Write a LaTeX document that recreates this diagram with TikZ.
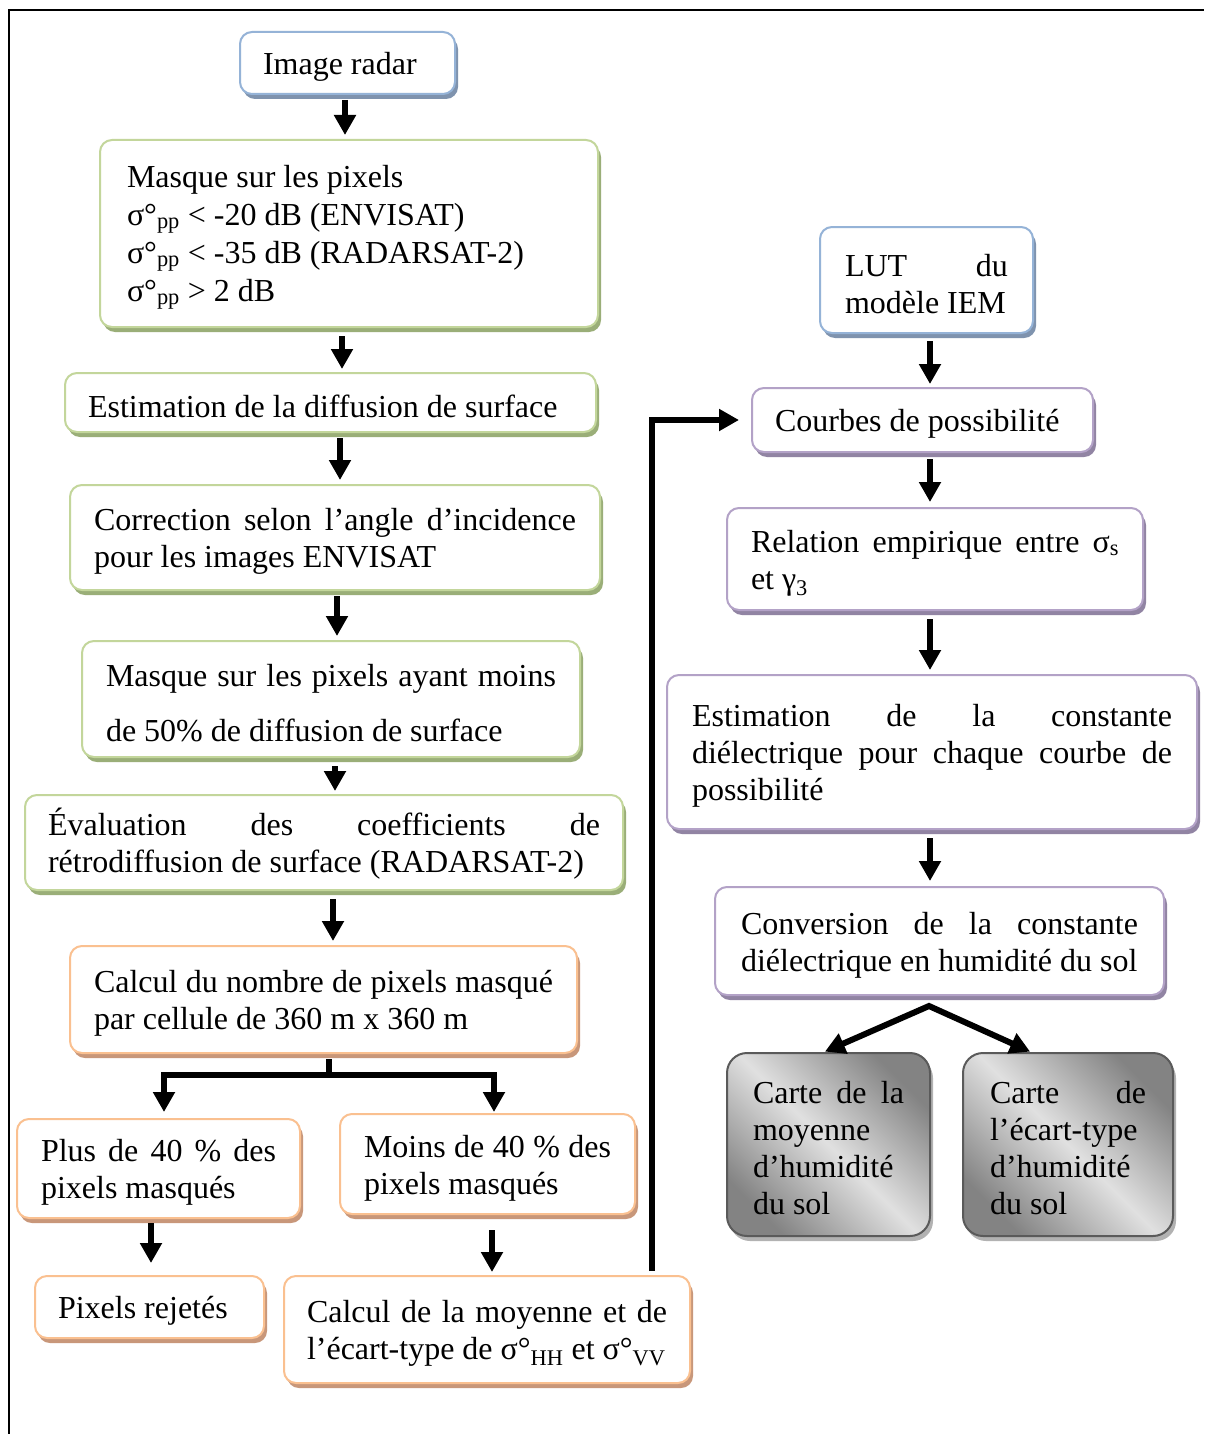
\documentclass[tikz,border=0pt]{standalone}
\usepackage{fontspec}
\setmainfont{Liberation Serif}
\usetikzlibrary{arrows.meta,shadows}
\definecolor{cblue}{HTML}{95B3D7}
\definecolor{sblue}{HTML}{7F93AE}
\definecolor{cgreen}{HTML}{C3D69B}
\definecolor{sgreen}{HTML}{9AAE78}
\definecolor{corange}{HTML}{FAC090}
\definecolor{sorange}{HTML}{C8977A}
\definecolor{cpurple}{HTML}{B3A2C7}
\definecolor{spurple}{HTML}{9184A3}
\definecolor{gdark}{HTML}{838383}
\definecolor{glight}{HTML}{E0E0E0}
\definecolor{gborder}{HTML}{5A5A5A}
\newcommand{\fsz}{\fontsize{32}{37}\selectfont}
\newcommand{\sps}{\spaceskip=0.25em plus 0.12em minus 0.06em\relax\xspaceskip=0pt\relax}
\newcommand{\jl}[1]{\noindent\hbox to \hsize{\spaceskip=0.25em plus 1fil\relax #1}}
\newcommand{\sbs}[1]{\textsubscript{#1}}
\begin{document}
\begin{tikzpicture}[x=1pt,y=-1pt,
  box/.style={draw=#1, line width=2pt, rounded corners=12pt, fill=white, inner ysep=0pt, text height=30pt, font=\fsz, text=black},
  sh/.style={drop shadow={shadow xshift=3pt,shadow yshift=-5pt,fill=#1,opacity=1}},
  arr/.style={line width=6pt,-{Triangle[width=21pt,length=20pt]},shorten <=5pt,shorten >=4pt},
  ln/.style={line width=6pt},
  gbox/.style={draw=gborder, line width=2pt, rounded corners=20pt, top color=gdark, bottom color=gdark, middle color=glight, shading angle=-45, inner ysep=0pt, text height=30pt, font=\fsz, text=black, drop shadow={shadow xshift=3pt,shadow yshift=-5pt,fill=gray!60,opacity=1}}
]
\useasboundingbox (0,0) rectangle (1204,1434);
\fill[white] (0,0) rectangle (1204,1434);
\draw[line width=2pt] (9,1434) -- (9,10) -- (1204,10);

% left column
\node[box=cblue, sh=sblue, minimum width=215pt, minimum height=62pt, text width=169pt, inner xsep=23pt] (img) at (347.5,63) {\sps\mbox{Image radar}};
\node[box=cgreen, sh=sgreen, minimum width=498pt, minimum height=187pt, text width=444pt, inner xsep=27pt] (mask) at (349,233.5)
 {\sps\mbox{Masque sur les pixels}\\[1pt]
  \mbox{σ°\sbs{pp} < -20 dB (ENVISAT)}\\[1pt]
  \mbox{σ°\sbs{pp} < -35 dB (RADARSAT-2)}\\[1pt]
  \mbox{σ°\sbs{pp} > 2 dB}};
\node[box=cgreen, sh=sgreen, minimum width=531pt, minimum height=59pt, text width=485pt, inner xsep=23pt] (est) at (330.5,402.5) {\sps\mbox{Estimation de la diffusion de surface}};
\node[box=cgreen, sh=sgreen, minimum width=530pt, minimum height=105pt, text width=482pt, inner xsep=24pt] (corr) at (335,537.5)
 {\sps\jl{Correction selon l’angle d’incidence}\\ \mbox{pour les images ENVISAT}};
\node[box=cgreen, sh=sgreen, minimum width=498pt, minimum height=116pt, text width=450pt, inner xsep=24pt] (m50) at (331,699)
 {\sps\jl{Masque sur les pixels ayant moins}\\[18pt] \mbox{de 50\% de diffusion de surface}};
\node[box=cgreen, sh=sgreen, minimum width=598pt, minimum height=95pt, text width=552pt, inner xsep=23pt] (eval) at (324,842.5)
 {\sps\jl{Évaluation des coefficients de}\\ \mbox{rétrodiffusion de surface (RADARSAT-2)}};
\node[box=corange, sh=sorange, minimum width=507pt, minimum height=107pt, text width=459pt, inner xsep=24pt] (calc) at (323.5,999.5)
 {\sps\jl{Calcul du nombre de pixels masqué}\\ \mbox{par cellule de 360 m x 360 m}};
\node[box=corange, sh=sorange, minimum width=283pt, minimum height=99pt, text width=235pt, inner xsep=24pt] (plus) at (158.5,1168.5)
 {\sps\jl{Plus de 40 \% des}\\ \mbox{pixels masqués}};
\node[box=corange, sh=sorange, minimum width=295pt, minimum height=100pt, text width=247pt, inner xsep=24pt] (moins) at (487.5,1164)
 {\sps\jl{Moins de 40 \% des}\\ \mbox{pixels masqués}};
\node[box=corange, sh=sorange, minimum width=229pt, minimum height=62pt, text width=183pt, inner xsep=23pt] (rej) at (149.5,1307) {\sps\mbox{Pixels rejetés}};
\node[box=corange, sh=sorange, minimum width=406pt, minimum height=107pt, text width=360pt, inner xsep=23pt] (moy) at (487,1329.5)
 {\sps\jl{Calcul de la moyenne et de}\\ \mbox{l’écart-type de σ°\sbs{HH} et σ°\sbs{VV}}};

% right column
\node[box=cblue, sh=sblue, minimum width=213pt, minimum height=106pt, text width=163pt, inner xsep=25pt] (lut) at (926.5,280)
 {\sps\jl{LUT du}\\ \mbox{modèle IEM}};
\node[box=cpurple, sh=spurple, minimum width=341pt, minimum height=64pt, text width=295pt, inner xsep=23pt] (courb) at (922.5,420) {\sps\mbox{Courbes de possibilité}};
\node[box=cpurple, sh=spurple, minimum width=416pt, minimum height=102pt, text width=368pt, inner xsep=24pt] (rel) at (935,559)
 {\sps\jl{Relation empirique entre σ\sbs{s}}\\ \mbox{et γ\sbs{3}}};
\node[box=cpurple, sh=spurple, minimum width=530pt, minimum height=154pt, text width=480pt, inner xsep=25pt] (estc) at (932,752)
 {\sps\jl{Estimation de la constante}\\ \jl{diélectrique pour chaque courbe de}\\ \mbox{possibilité}};
\node[box=cpurple, sh=spurple, minimum width=449pt, minimum height=108pt, text width=397pt, inner xsep=26pt] (conv) at (939.5,941)
 {\sps\jl{Conversion de la constante}\\ \mbox{diélectrique en humidité du sol}};
\node[gbox, minimum width=203pt, minimum height=183pt, text width=151pt, inner xsep=26pt] (cm) at (828.5,1144.5)
 {\sps\jl{Carte de la}\\ \mbox{moyenne}\\ \mbox{d’humidité}\\ \mbox{du sol}};
\node[gbox, minimum width=210pt, minimum height=183pt, text width=156pt, inner xsep=27pt] (ce) at (1068,1144.5)
 {\sps\jl{Carte de}\\ \mbox{l’écart-type}\\ \mbox{d’humidité}\\ \mbox{du sol}};

% arrow guide coordinates
\coordinate (a1) at (345,0);
\coordinate (a2) at (342,0);
\coordinate (a3) at (340,0);
\coordinate (a4) at (337,0);
\coordinate (a5) at (335,0);
\coordinate (a6) at (333,0);
\coordinate (a7) at (151,0);
\coordinate (a8) at (492,0);
\coordinate (ar) at (930,0);
\coordinate (split) at (329,1075);
\coordinate (sl) at (164,1075);
\coordinate (sr) at (494,1075);
\coordinate (lx) at (652,0);
\coordinate (ap) at (929,1006);
\coordinate (tl) at (824,0);
\coordinate (tr) at (1031,0);

\draw[arr] (img.south -| a1) -- (mask.north -| a1);
\draw[arr, shorten <=8pt, shorten >=3pt] (mask.south -| a2) -- (est.north -| a2);
\draw[arr] (est.south -| a3) -- (corr.north -| a3);
\draw[arr] (corr.south -| a4) -- (m50.north -| a4);
\draw[arr, shorten <=8pt, shorten >=3pt] (m50.south -| a5) -- (eval.north -| a5);
\draw[arr, shorten <=8pt] (eval.south -| a6) -- (calc.north -| a6);
\draw[ln, shorten <=5pt] (calc.south -| split) -- (split);
\draw[line width=6pt, {Triangle[width=21pt,length=20pt]}-{Triangle[width=21pt,length=20pt]}, shorten <=6pt, shorten >=1pt]
  (plus.north -| sl) -- (sl) -- (sr) -- (moins.north -| sr);
\draw[arr, shorten <=4pt, shorten >=12pt] (plus.south -| a7) -- (rej.north -| a7);
\draw[arr, shorten <=15pt, shorten >=3pt] (moins.south -| a8) -- (moy.north -| a8);
\draw[arr, shorten <=4pt, shorten >=12pt] (moy.north -| lx) -- (lx |- courb.west) -- (courb.west);

\draw[arr, shorten <=7pt, shorten >=3pt] (lut.south -| ar) -- (courb.north -| ar);
\draw[arr, shorten <=6pt, shorten >=5pt] (courb.south -| ar) -- (rel.north -| ar);
\draw[arr, shorten <=8pt, shorten >=4pt] (rel.south -| ar) -- (estc.north -| ar);
\draw[arr, shorten <=8pt, shorten >=5pt] (estc.south -| ar) -- (conv.north -| ar);
\draw[line width=6pt, {Triangle[width=21pt,length=20pt]}-{Triangle[width=21pt,length=20pt]}, shorten <=1pt, shorten >=1pt]
  (cm.north -| tl) -- (ap) -- (ce.north -| tr);
\end{tikzpicture}
\end{document}
